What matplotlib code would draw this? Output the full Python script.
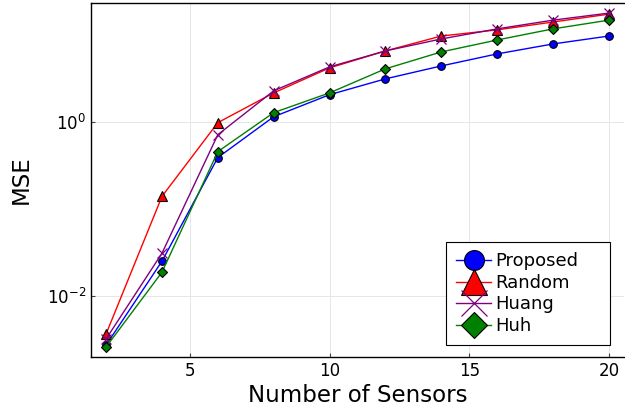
import numpy as np
import matplotlib
matplotlib.use("Agg")
import matplotlib.pyplot as plt

# values (log-scale y)
n_sensors = [2, 4, 6, 8, 10, 12, 14, 16, 18, 20]
mse_proposed = [0.00275, 0.0251, 0.388, 1.14, 2.04, 3.10, 4.36, 5.99, 7.79, 9.6]
mse_random = [0.00368, 0.139, 0.975, 2.14, 4.14, 6.48, 9.6, 11.3, 13.9, 17.1]
mse_huang = [0.00323, 0.031, 0.71, 2.26, 4.25, 6.48, 8.89, 11.6, 14.6, 17.6]
mse_huh = [0.00261, 0.0188, 0.454, 1.27, 2.14, 4.04, 6.31, 8.65, 11.6, 14.6]

plt.rcParams['font.family'] = ['DejaVu Sans']

fig = plt.figure(figsize=(6.25, 4.16), dpi=100)
ax = fig.add_axes([91 / 625, 1 - 357 / 416, 533 / 625, 354 / 416])

ax.plot(n_sensors, mse_proposed, color='blue', lw=1, marker='o', ms=5.5,
        mfc='blue', mec='black', mew=0.8, label='Proposed')
ax.plot(n_sensors, mse_random, color='red', lw=1, marker='^', ms=7,
        mfc='red', mec='black', mew=0.8, label='Random')
ax.plot(n_sensors, mse_huang, color='purple', lw=1, marker='x', ms=7,
        mew=0.9, label='Huang')
ax.plot(n_sensors, mse_huh, color='green', lw=1, marker='D', ms=5,
        mfc='green', mec='black', mew=0.8, label='Huh')

ax.set_yscale('log')
ax.set_xlim(1.46, 20.54)
ax.set_ylim(10 ** -2.698, 10 ** 1.361)
ax.set_xticks([5, 10, 15, 20])
ax.set_yticks([1e-2, 1e0])
ax.yaxis.set_minor_locator(matplotlib.ticker.NullLocator())
ax.grid(True, color='#e6e6e6', lw=0.7)
ax.set_axisbelow(True)
ax.tick_params(direction='in', length=3, labelsize=12, color='#444444')
ax.spines['right'].set_visible(False)
for s in ['left', 'bottom', 'top']:
    ax.spines[s].set_linewidth(1)

ax.set_xlabel('Number of Sensors', fontsize=16.5, labelpad=3)
ax.set_ylabel('MSE', fontsize=16.5, labelpad=10)

# legend box roughly x 446-610, y 242-345 px in the reference
leg = ax.legend(loc='lower left', bbox_to_anchor=(355 / 533, 12 / 354, 164 / 533, 0.29),
                mode='expand', borderaxespad=0, fontsize=13,
                markerscale=2.6, handlelength=1.95, handletextpad=0.25,
                labelspacing=0.2, borderpad=0.55, frameon=True, fancybox=False,
                edgecolor='black', framealpha=1)
leg.get_frame().set_linewidth(0.8)

fig.savefig('out.png', dpi=100)
